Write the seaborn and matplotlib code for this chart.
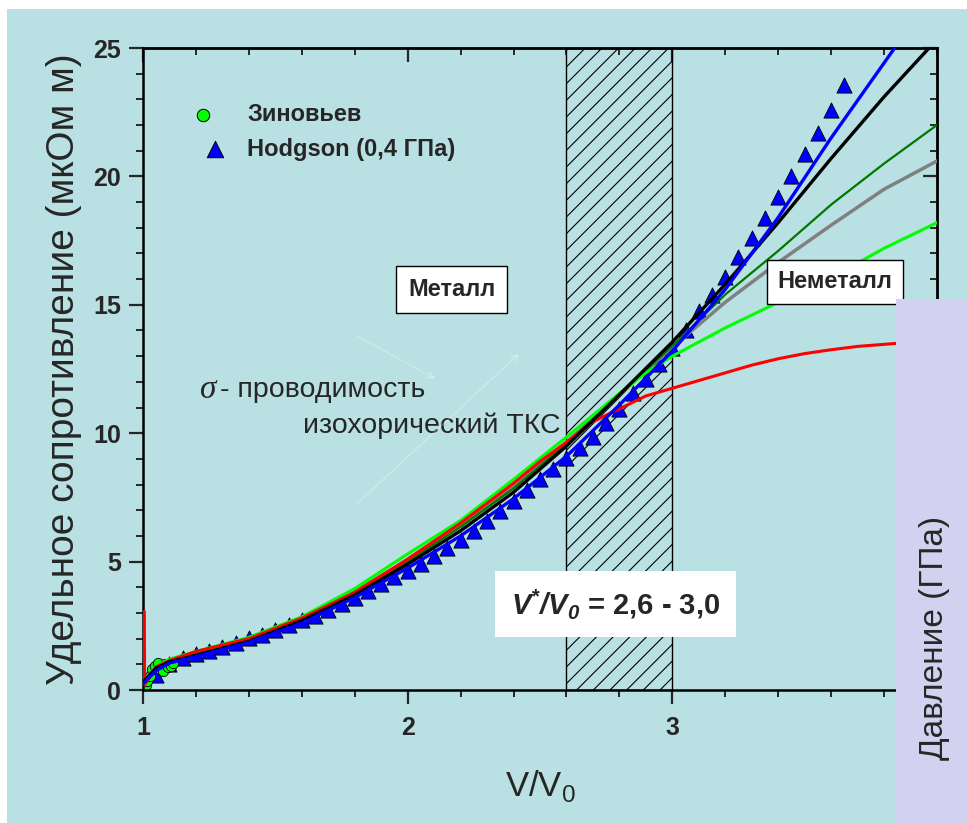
import matplotlib
matplotlib.use('Agg')
import matplotlib.pyplot as plt
from matplotlib.patches import Rectangle
from matplotlib.ticker import MultipleLocator, NullFormatter
import seaborn as sns

# --- данные ---
x_black = [1.0, 1.05, 1.1, 1.2, 1.4, 1.6, 1.8, 2.0, 2.2, 2.4, 2.6, 2.8, 3.0, 3.2, 3.4, 3.6, 3.8, 3.97]
y_black = [0.3, 0.85, 1.1, 1.35, 1.9, 2.7, 3.7, 4.9, 6.2, 7.7, 9.5, 11.5, 13.55, 15.8, 18.2, 20.7, 23.1, 25.0]

x_blue = [1.0, 1.05, 1.1, 1.2, 1.4, 1.6, 1.8, 2.0, 2.2, 2.4, 2.6, 2.8, 3.0, 3.2, 3.4, 3.6, 3.84]
y_blue = [0.25, 0.75, 1.05, 1.3, 1.85, 2.6, 3.6, 4.75, 6.0, 7.45, 9.1, 11.1, 13.2, 15.6, 18.4, 21.5, 25.0]

x_gray = [1.0, 1.05, 1.1, 1.2, 1.4, 1.6, 1.8, 2.0, 2.2, 2.4, 2.6, 2.8, 3.0, 3.2, 3.4, 3.6, 3.8, 4.0]
y_gray = [0.35, 0.9, 1.15, 1.45, 2.0, 2.8, 3.85, 5.05, 6.4, 7.9, 9.65, 11.5, 13.35, 15.1, 16.65, 18.1, 19.5, 20.6]

x_dgreen = [1.0, 1.05, 1.1, 1.2, 1.4, 1.6, 1.8, 2.0, 2.2, 2.4, 2.6, 2.8, 3.0, 3.2, 3.4, 3.6, 3.8, 4.0]
y_dgreen = [0.35, 0.9, 1.15, 1.45, 2.0, 2.8, 3.8, 5.0, 6.35, 7.85, 9.6, 11.5, 13.4, 15.4, 17.1, 18.9, 20.5, 22.0]

x_green = [1.0, 1.03, 1.06, 1.1, 1.2, 1.4, 1.6, 1.8, 2.0, 2.2, 2.4, 2.6, 2.7, 2.8, 2.9, 3.0, 3.1, 3.2, 3.4, 3.6, 3.8, 4.0]
y_green = [0.4, 0.6, 1.0, 1.2, 1.5, 2.05, 2.85, 3.95, 5.3, 6.6, 8.2, 9.85, 10.7, 11.55, 12.35, 13.0, 13.55, 14.1, 15.1, 16.05, 17.2, 18.2]

x_red = [1.005, 1.006, 1.05, 1.1, 1.2, 1.4, 1.6, 1.8, 2.0, 2.2, 2.4, 2.5, 2.6, 2.7, 2.8, 2.9, 3.0, 3.1, 3.2, 3.3, 3.4, 3.5, 3.6, 3.7, 3.85, 4.0]
y_red = [3.05, 0.2, 0.9, 1.15, 1.5, 2.0, 2.8, 3.8, 5.1, 6.5, 8.05, 8.9, 9.65, 10.45, 10.95, 11.45, 11.75, 12.05, 12.35, 12.65, 12.9, 13.1, 13.25, 13.38, 13.5, 13.6]

# Зиновьев (кружки)
x_zin = [1.01, 1.015, 1.025, 1.035, 1.045, 1.055, 1.065, 1.075, 1.085, 1.095, 1.105, 1.115]
y_zin = [0.2, 0.35, 0.55, 0.8, 0.95, 1.05, 0.8, 0.75, 1.0, 0.9, 0.95, 1.05]

# Hodgson (0,4 ГПа) (треугольники)
x_hod = [1.05, 1.10, 1.15, 1.20, 1.25, 1.30, 1.35, 1.40, 1.45, 1.50, 1.55, 1.60, 1.65, 1.70,
         1.75, 1.80, 1.85, 1.90, 1.95, 2.00, 2.05, 2.10, 2.15, 2.20, 2.25, 2.30, 2.35, 2.40,
         2.45, 2.50, 2.55, 2.60, 2.65, 2.70, 2.75, 2.80, 2.85, 2.90, 2.95, 3.00, 3.05, 3.10,
         3.15, 3.20, 3.25, 3.30, 3.35, 3.40, 3.45, 3.50, 3.55, 3.60, 3.65]
y_hod = [0.6, 1.0, 1.25, 1.40, 1.53, 1.67, 1.84, 2.01, 2.16, 2.33, 2.52, 2.71, 2.90, 3.12,
         3.34, 3.58, 3.84, 4.11, 4.40, 4.65, 4.90, 5.22, 5.52, 5.84, 6.2, 6.58, 6.97, 7.36,
         7.8, 8.2, 8.6, 9.03, 9.41, 9.87, 10.38, 10.95, 11.58, 12.1, 12.7, 13.32, 14.0, 14.76,
         15.4, 16.1, 16.88, 17.6, 18.37, 19.2, 20.03, 20.88, 21.7, 22.6, 23.55]

x_ticks = [1, 2, 3]
y_ticks = [0, 5, 10, 15, 20, 25]

sns.set_theme(style='ticks')
plt.rcParams['font.family'] = ['Liberation Sans', 'DejaVu Sans']
plt.rcParams['mathtext.fontset'] = 'custom'
plt.rcParams['mathtext.rm'] = 'Liberation Sans'
plt.rcParams['mathtext.bf'] = 'Liberation Sans:bold:italic'
plt.rcParams['hatch.linewidth'] = 0.8

BG = '#b9e0e3'
PANEL = '#d2d2f0'

fig = plt.figure(figsize=(9.67, 8.23), dpi=100)
fig.patch.set_facecolor('white')
fig.add_artist(Rectangle((7 / 967, 0), 1, (823 - 9) / 823, transform=fig.transFigure,
                         facecolor=BG, edgecolor='none', zorder=-10))

ax = fig.add_axes([143 / 967, (823 - 690) / 823, (937 - 143) / 967, (690 - 48) / 823])
ax.set_facecolor('none')

# заштрихованная область V*/V0
ax.axvspan(2.6, 3.0, facecolor='none', edgecolor='black', hatch='//', linewidth=1.0, zorder=1)

# экспериментальные точки
sns.scatterplot(x=x_hod, y=y_hod, marker='^', s=120, color='#0000ff', edgecolor='black',
                linewidth=0.6, ax=ax, zorder=2, clip_on=False)
sns.scatterplot(x=x_zin, y=y_zin, marker='o', s=55, color='#00ff00', edgecolor='black',
                linewidth=0.6, ax=ax, zorder=2)

# расчётные кривые
curves = [
    (x_gray, y_gray, '#808080', 2.5),
    (x_dgreen, y_dgreen, '#007800', 1.6),
    (x_green, y_green, '#00ff00', 2.2),
    (x_red, y_red, '#ff0000', 2.2),
    (x_black, y_black, 'black', 2.4),
    (x_blue, y_blue, '#0000ff', 2.4),
]
for xs, ys, c, lw in curves:
    sns.lineplot(x=xs, y=ys, color=c, linewidth=lw, estimator=None, sort=False, ax=ax, zorder=3)

ax.set_xlim(1, 4.0)
ax.set_ylim(0, 25)
ax.set_xticks(x_ticks)
ax.set_yticks(y_ticks)
ax.xaxis.set_minor_locator(MultipleLocator(0.2))
ax.yaxis.set_minor_locator(MultipleLocator(1))
ax.tick_params(which='major', direction='out', length=10, width=1.6, labelsize=18, pad=6)
ax.tick_params(axis='x', which='major', pad=9)
ax.tick_params(which='minor', direction='out', length=5, width=1.4)
for lab in ax.get_xticklabels() + ax.get_yticklabels():
    lab.set_fontweight('bold')
for sp in ax.spines.values():
    sp.set_linewidth(1.8)
    sp.set_color('black')

# верхняя и правая оси с внутренними рисками
top = ax.secondary_xaxis('top')
top.set_xticks(x_ticks)
top.xaxis.set_minor_locator(MultipleLocator(0.2))
top.tick_params(which='major', direction='in', length=10, width=1.6, labeltop=False)
top.tick_params(which='minor', direction='in', length=5, width=1.4)
top.xaxis.set_major_formatter(NullFormatter())
right = ax.secondary_yaxis('right')
right.set_yticks(y_ticks)
right.yaxis.set_minor_locator(MultipleLocator(1))
right.tick_params(which='major', direction='in', length=10, width=1.6, labelright=False)
right.tick_params(which='minor', direction='in', length=5, width=1.4)
right.yaxis.set_major_formatter(NullFormatter())
for s in (top, right):
    for sp in s.spines.values():
        sp.set_linewidth(1.8)

ax.set_xlabel('V/V$_0$', fontsize=25, labelpad=20)
ax.set_ylabel('Удельное сопротивление (мкОм м)', fontsize=28, labelpad=8)

# легенда
ax.scatter([0.076], [0.896], transform=ax.transAxes, marker='o', s=80, color='#00ff00',
           edgecolor='black', linewidth=0.7, clip_on=False, zorder=5)
ax.scatter([0.091], [0.842], transform=ax.transAxes, marker='^', s=140, color='#0000ff',
           edgecolor='black', linewidth=0.7, clip_on=False, zorder=5)
ax.text(0.131, 0.896, 'Зиновьев', transform=ax.transAxes, fontsize=17, fontweight='bold',
        va='center', ha='left')
ax.text(0.131, 0.842, 'Hodgson (0,4 ГПа)', transform=ax.transAxes, fontsize=17,
        fontweight='bold', va='center', ha='left')

# подписи областей
ax.text(2.167, 15.6, 'Металл', fontsize=17, fontweight='bold', ha='center', va='center', zorder=6,
        bbox=dict(boxstyle='square,pad=0.5', facecolor='white', edgecolor='black', linewidth=1))
ax.text(3.614, 15.9, 'Неметалл', fontsize=17, fontweight='bold', ha='center', va='center', zorder=6,
        bbox=dict(boxstyle='square,pad=0.45', facecolor='white', edgecolor='black', linewidth=1))
ax.text(2.784, 3.35, r'$\mathbf{V^{*}/V_{0}}$ = 2,6 - 3,0', fontsize=21, fontweight='bold',
        ha='center', va='center', zorder=6,
        bbox=dict(boxstyle='square,pad=0.55', facecolor='white', edgecolor='none'))

ax.text(1.216, 11.7, 'σ', fontsize=24, family='Liberation Serif', style='italic',
        ha='left', va='center')
ax.text(1.29, 11.7, '- проводимость', fontsize=20.5, ha='left', va='center')
ax.text(1.606, 10.3, 'изохорический ТКС', fontsize=20.5, ha='left', va='center')

# бледные стрелки
ax.annotate('', xy=(2.114, 12.07), xytext=(1.803, 13.82),
            arrowprops=dict(arrowstyle='->', color='white', alpha=0.3, lw=1))
ax.annotate('', xy=(2.428, 13.16), xytext=(1.803, 7.2),
            arrowprops=dict(arrowstyle='->', color='white', alpha=0.3, lw=1))

# правая панель давления
fig.add_artist(Rectangle((896 / 967, 0), 1, (823 - 299) / 823, transform=fig.transFigure,
                         facecolor=PANEL, edgecolor='none', zorder=10))
fig.text(935 / 967, (823 - 638) / 823, 'Давление (ГПа)', rotation=90, fontsize=24,
         ha='center', va='center', zorder=11)

fig.savefig('out.png', dpi=100)
